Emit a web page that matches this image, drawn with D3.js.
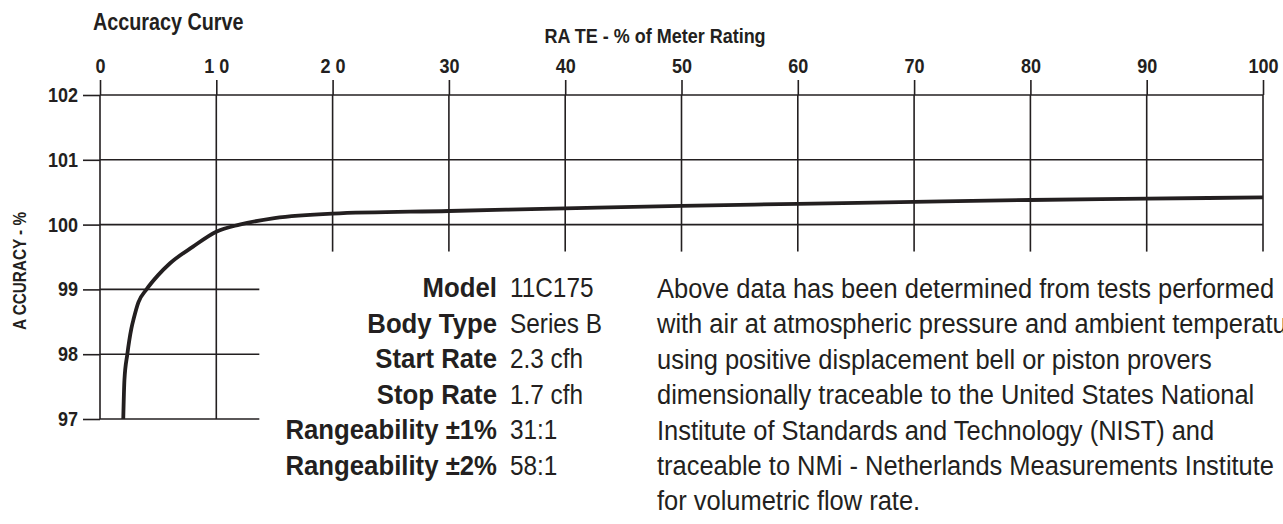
<!DOCTYPE html>
<meta charset="utf-8">
<style>
body { margin: 0; background: #fff; }
svg { display: block; overflow: hidden; }
text { fill: #231f20; font-family: 'Liberation Sans', Arial, sans-serif; }
.bold { font-weight: bold; }
.axis text { font-size: 20px; font-weight: bold; }
.axis line { stroke: #231f20; stroke-width: 1.6; }
.grid line { stroke: #231f20; stroke-width: 1.6; }
.curve { fill: none; stroke: #231f20; stroke-width: 3.8; }
.spec { font-size: 28px; }
.note { font-size: 28px; }
</style>
<body>
<div id="chart"></div>
<script src="https://cdn.jsdelivr.net/npm/d3@7"></script>
<script>
// rate, % of meter rating
var rateTicks = [0, 10, 20, 30, 40, 50, 60, 70, 80, 90, 100];
var rateLabels = ['0', '1 0', '2 0', '30', '40', '50', '60', '70', '80', '90', '100'];
// accuracy %
var accTicks = [97, 98, 99, 100, 101, 102];

// curve
var curveRate = [2.0, 2.1, 2.35, 2.7, 2.9, 3.3, 4.0, 5.0, 6.0, 8.0, 10, 12, 15, 20, 30, 40, 50, 60, 70, 80, 90, 100];
var curveAcc  = [97.0, 97.6, 98.0, 98.4, 98.55, 98.8, 99.0, 99.22, 99.4, 99.66, 99.89, 100.0, 100.1, 100.17, 100.21, 100.25, 100.29, 100.32, 100.35, 100.38, 100.40, 100.42];

var specLabels = ['Model', 'Body Type', 'Start Rate', 'Stop Rate', 'Rangeability \u00b11%', 'Rangeability \u00b12%'];
var specValues = ['11C175', 'Series B', '2.3 cfh', '1.7 cfh', '31:1', '58:1'];

var noteLines = [
  'Above data has been determined from tests performed',
  'with air at atmospheric pressure and ambient temperature',
  'using positive displacement bell or piston provers',
  'dimensionally traceable to the United States National',
  'Institute of Standards and Technology (NIST) and',
  'traceable to NMi - Netherlands Measurements Institute',
  'for volumetric flow rate.'
];

var W = 1283, H = 524;
var NARROW = 0.9;   // fake a condensed face

var svg = d3.select('#chart')
  .append('svg')
  .attr('width', W)
  .attr('height', H);

var x = d3.scaleLinear().domain([0, 100]).range([100, 1263]);
var y = d3.scaleLinear().domain([97, 102]).range([419, 95]);

// squeeze a text horizontally around its own anchor
function narrow(sel, s, rot) {
  sel.attr('transform', function() {
      var tx = +this.getAttribute('x'), ty = +this.getAttribute('y');
      return 'translate(' + tx + ',' + ty + ')' + (rot ? ' rotate(' + rot + ')' : '') + ' scale(' + s + ',1)';
    })
    .attr('x', 0)
    .attr('y', 0);
}

// grid lines
var grid = svg.append('g').attr('class', 'grid');

grid.selectAll('.vline')
  .data(rateTicks)
  .enter().append('line')
    .attr('x1', function(d) { return x(d); })
    .attr('x2', function(d) { return x(d); })
    .attr('y1', y(102))
    .attr('y2', function(d) { return d <= 10 ? y(97) : y(100) + 27; });

grid.selectAll('.hline')
  .data(accTicks)
  .enter().append('line')
    .attr('x1', x(0))
    .attr('x2', function(d) { return d >= 100 ? x(100) : x(13.7); })
    .attr('y1', function(d) { return y(d); })
    .attr('y2', function(d) { return y(d); });

// axes
var xAxis = d3.axisTop(x)
  .tickValues(rateTicks)
  .tickFormat(function(d, i) { return rateLabels[i]; })
  .tickSize(15)
  .tickPadding(7);

var gx = svg.append('g')
  .attr('class', 'axis')
  .attr('transform', 'translate(0,' + y(102) + ')')
  .call(xAxis);
gx.select('.domain').remove();
gx.attr('font-family', null).attr('font-size', null);
gx.selectAll('text').attr('transform', 'scale(' + NARROW + ',1)');

var yAxis = d3.axisLeft(y)
  .tickValues(accTicks)
  .tickFormat(d3.format('d'))
  .tickSize(17)
  .tickPadding(5);

var gy = svg.append('g')
  .attr('class', 'axis')
  .attr('transform', 'translate(' + x(0) + ',0)')
  .call(yAxis);
gy.select('.domain').remove();
gy.attr('font-family', null).attr('font-size', null);
gy.selectAll('text')
  .attr('x', -22 / NARROW)
  .attr('transform', 'scale(' + NARROW + ',1)');

// the accuracy curve
var pts = curveRate.map(function(r, i) { return [r, curveAcc[i]]; });

var line = d3.line()
  .x(function(d) { return x(d[0]); })
  .y(function(d) { return y(d[1]); })
  .curve(d3.curveMonotoneX);

svg.append('path')
  .datum(pts)
  .attr('class', 'curve')
  .attr('d', line);

// titles
svg.append('text')
  .attr('class', 'bold')
  .attr('x', 93)
  .attr('y', 30)
  .attr('font-size', 23)
  .text('Accuracy Curve')
  .call(narrow, 0.86);

svg.append('text')
  .attr('class', 'bold')
  .attr('x', 655)
  .attr('y', 43)
  .attr('text-anchor', 'middle')
  .attr('font-size', 20)
  .text('RA TE - % of Meter Rating')
  .call(narrow, NARROW);

svg.append('text')
  .attr('class', 'bold')
  .attr('x', 26)
  .attr('y', 271)
  .attr('text-anchor', 'middle')
  .attr('font-size', 18)
  .text('A CCURACY - %')
  .call(narrow, 0.85, -90);

// spec table
var rowY = d3.scalePoint().domain(d3.range(specLabels.length)).range([297, 297 + 35.6 * 5]);

svg.selectAll('.specLabel')
  .data(specLabels)
  .enter().append('text')
    .attr('class', 'spec bold')
    .attr('x', 497)
    .attr('y', function(d, i) { return rowY(i); })
    .attr('text-anchor', 'end')
    .text(function(d) { return d; })
    .call(narrow, 0.92);

svg.selectAll('.specValue')
  .data(specValues)
  .enter().append('text')
    .attr('class', 'spec')
    .attr('x', 510)
    .attr('y', function(d, i) { return rowY(i); })
    .text(function(d) { return d; })
    .call(narrow, 0.87);

// note
var noteY = d3.scalePoint().domain(d3.range(noteLines.length)).range([298, 298 + 35.4 * 6]);

svg.selectAll('.noteLine')
  .data(noteLines)
  .enter().append('text')
    .attr('class', 'note')
    .attr('x', 657)
    .attr('y', function(d, i) { return noteY(i); })
    .text(function(d) { return d; })
    .call(narrow, 0.91);
</script>
</body>
